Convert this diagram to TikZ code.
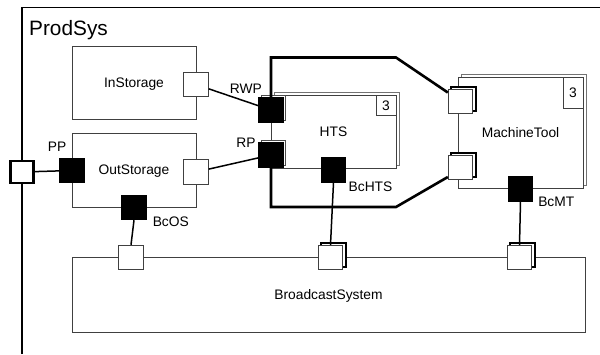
\documentclass[tikz,border=0pt]{standalone}
\usepackage{fontspec}
\setmainfont{Liberation Sans}
\usetikzlibrary{calc,shadows}
\tikzset{
  box/.style={draw=black!75, line width=0.9pt, fill=white, inner sep=0pt,
    text height=9.9pt, text depth=0pt, font=\fontsize{13.8}{16}\selectfont},
  multibox/.style={box, copy shadow={shadow xshift=3pt, shadow yshift=3pt, draw=black!55, fill=white, line width=0.9pt}},
  multbox/.style={draw=black!75, line width=0.9pt, fill=white, inner sep=0pt,
    text height=9.6pt, text depth=0pt, font=\fontsize{13.8}{16}\selectfont},
  wport/.style={draw=black!75, line width=0.9pt, fill=white, minimum size=24.5pt, inner sep=0pt},
  bport/.style={draw=black, line width=0.9pt, fill=black, minimum size=24.5pt, inner sep=0pt},
  wmport/.style={wport, copy shadow={shadow xshift=3pt, shadow yshift=2.5pt, draw=black, fill=white, line width=1.8pt}},
  bmport/.style={bport, copy shadow={shadow xshift=2.5pt, shadow yshift=2pt, draw=black!70, fill=white, line width=0.8pt}},
  extport/.style={draw=black, line width=2.5pt, fill=white, minimum width=23pt, minimum height=22pt, inner sep=0pt},
  lbl/.style={inner sep=0pt, text height=9.9pt, text depth=0pt, font=\fontsize{13.8}{16}\selectfont},
  conn/.style={draw=black, line width=1.5pt},
  thickline/.style={draw=black, line width=2.6pt, line join=miter},
  framel/.style={draw=black, line width=1.4pt}
}
\begin{document}
\begin{tikzpicture}[x=1pt,y=-1pt]
\useasboundingbox (0,0) rectangle (600,354);
% frame
\coordinate (fbot) at (22,354);
\coordinate (ftl) at (22,7.3);
\coordinate (ftr) at (600,7.3);
\draw[framel] (fbot) -- (ftl) -- (ftr);
\node[anchor=base west, inner sep=0pt, font=\fontsize{20.8}{24}\selectfont] (title) at (29,35) {ProdSys};

% boxes
\node[box, minimum width=124pt, minimum height=73pt] (InStorage) at (134,82.5) {InStorage};
\node[box, minimum width=124pt, minimum height=74pt] (OutStorage) at (134,170) {OutStorage};
\node[multibox, minimum width=125pt, minimum height=73pt] (HTS) at (333.5,132) {HTS};
\node[multbox, minimum width=20pt, minimum height=20pt, anchor=north east] (HTSm) at (HTS.north east) {3};
\node[multibox, minimum width=125pt, minimum height=111pt] (MT) at (520.5,132.5) {MachineTool};
\node[multbox, minimum width=20pt, minimum height=31pt, anchor=north east] (MTm) at (MT.north east) {3};
\node[box, minimum width=513pt, minimum height=75pt] (BS) at (328.5,294.5) {BroadcastSystem};

% ports
\node[extport] (ext) at (22,172) {};
\node[bport] (PP) at (72,170.5) {};
\node[wport] (pIn) at (196,84.5) {};
\node[wport] (pOut) at (196,172) {};
\node[bport] (BcOS) at (134,207.5) {};
\node[bmport] (RWP) at (271,110) {};
\node[bmport] (RP) at (271,155) {};
\node[bport] (BcHTS) at (333.5,170) {};
\node[wmport] (MT1) at (460.5,101.5) {};
\node[wmport] (MT2) at (460.5,167.5) {};
\node[bport] (BcMT) at (520.5,189) {};
\node[wport] (B1) at (131,257.5) {};
\node[wmport] (B2) at (330.5,257.5) {};
\node[wmport] (B3) at (519.5,257.5) {};

% connectors
\draw[conn] (ext) -- (PP);
\draw[conn] (pIn) -- (RWP);
\draw[conn] (pOut) -- (RP);
\draw[conn] (BcOS.south) -- (B1.north);
\draw[conn] (BcHTS.south) -- (B2.north);
\draw[conn] (BcMT.south) -- (B3.north);
\coordinate (tl) at (271,57.5);
\coordinate (tr) at (396,57.5);
\coordinate (bl) at (271,207);
\coordinate (br) at (396,207);
\draw[thickline] (RWP.north) -- (tl) -- (tr) -- ([yshift=9pt]MT1.west);
\draw[thickline] (RP.south) -- (bl) -- (br) -- ([yshift=-9.5pt]MT2.west);

% labels
\node[lbl] (lPP) at (57,147) {PP};
\node[lbl] (lBcOS) at (170.8,222) {BcOS};
\node[lbl] (lRWP) at (245.8,88.5) {RWP};
\node[lbl] (lRP) at (246,142.5) {RP};
\node[lbl] (lBcHTS) at (370.5,187) {BcHTS};
\node[lbl] (lBcMT) at (556.3,201.7) {BcMT};
\end{tikzpicture}
\end{document}
